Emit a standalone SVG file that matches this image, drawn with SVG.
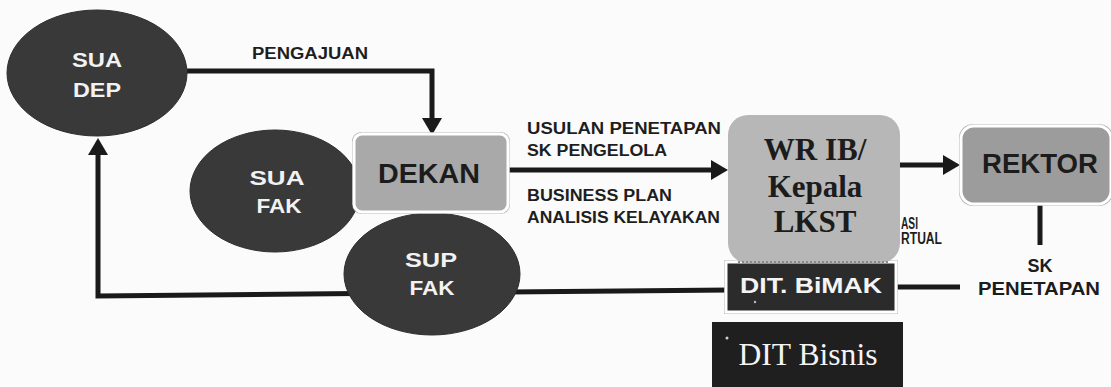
<svg xmlns="http://www.w3.org/2000/svg" width="1111" height="387" viewBox="0 0 1111 387">
<defs>
<style>
.ell{fill:#393939;stroke:#2e2e2e;stroke-width:1}
.et{font-family:"Liberation Sans",Arial,sans-serif;font-weight:bold;font-size:21px;fill:#f2f2f2;text-anchor:middle}
.lbl{font-family:"Liberation Sans",Arial,sans-serif;font-weight:bold;font-size:16px;fill:#1e1e1e}
.bt{font-family:"Liberation Sans",Arial,sans-serif;font-weight:bold;fill:#1c1c1c;text-anchor:middle}
.st{font-family:"Liberation Serif","Times New Roman",serif;font-weight:bold;font-size:31px;fill:#1c1c1c;text-anchor:middle}
.ln{fill:none;stroke:#1a1a1a;stroke-width:5}
.gbox{stroke:#ffffff;stroke-width:3}
</style>
<marker id="ah" markerUnits="userSpaceOnUse" markerWidth="20" markerHeight="24" viewBox="0 -12 20 24" refX="0" refY="0" orient="auto">
<path d="M0,-10 L17,0 L0,10 Z" fill="#1a1a1a"/>
</marker>
</defs>
<rect width="1111" height="387" fill="#fbfbfb"/>

<g id="connectors">
<path class="ln" d="M187,71 H432 V118" marker-end="url(#ah)"/>
<path class="ln" d="M505,170 H711" marker-end="url(#ah)"/>
<path class="ln" d="M900,165 H943" marker-end="url(#ah)"/>
<path class="ln" d="M730,290 L98,296 V155" marker-end="url(#ah)"/>
<path class="ln" d="M895,287 H960"/>
<path class="ln" stroke-width="6" d="M1040,205 V245"/>
</g>

<g id="label-pengajuan"><text class="lbl" x="252" y="59" textLength="116" lengthAdjust="spacingAndGlyphs">PENGAJUAN</text></g>
<g id="label-usulan">
<text class="lbl" x="527" y="134" textLength="194" lengthAdjust="spacingAndGlyphs">USULAN PENETAPAN</text>
<text class="lbl" x="527" y="156" textLength="140" lengthAdjust="spacingAndGlyphs">SK PENGELOLA</text>
</g>
<g id="label-business">
<text class="lbl" x="527" y="201" textLength="145" lengthAdjust="spacingAndGlyphs">BUSINESS PLAN</text>
<text class="lbl" x="527" y="223" textLength="193" lengthAdjust="spacingAndGlyphs">ANALISIS KELAYAKAN</text>
</g>
<g id="label-virtual">
<text class="lbl" font-size="10" x="901" y="229" textLength="17" lengthAdjust="spacingAndGlyphs">ASI</text>
<text class="lbl" font-size="10" x="901" y="244" textLength="41" lengthAdjust="spacingAndGlyphs">RTUAL</text>
</g>
<g id="label-sk">
<text class="bt" font-size="18" x="1040" y="272">SK</text>
<text class="bt" font-size="18" x="1039" y="295" textLength="122" lengthAdjust="spacingAndGlyphs">PENETAPAN</text>
</g>

<g id="sua-dep">
<ellipse class="ell" cx="97" cy="73" rx="90" ry="63"/>
<text class="et" x="97" y="67" textLength="50" lengthAdjust="spacingAndGlyphs">SUA</text>
<text class="et" x="97" y="97" textLength="48" lengthAdjust="spacingAndGlyphs">DEP</text>
</g>

<g id="sua-fak">
<ellipse class="ell" cx="275" cy="191" rx="85" ry="61"/>
<text class="et" x="277" y="185" textLength="55" lengthAdjust="spacingAndGlyphs">SUA</text>
<text class="et" x="279" y="213" textLength="45" lengthAdjust="spacingAndGlyphs">FAK</text>
</g>

<g id="sup-fak">
<ellipse class="ell" cx="432" cy="274" rx="88" ry="61"/>
<text class="et" x="431" y="267" textLength="52" lengthAdjust="spacingAndGlyphs">SUP</text>
<text class="et" x="432" y="295" textLength="45" lengthAdjust="spacingAndGlyphs">FAK</text>
</g>

<g id="dekan">
<rect x="352" y="132" width="158" height="82" rx="9" fill="#8e8e8e" opacity="0.6"/>
<rect class="gbox" x="354" y="134" width="154" height="78" rx="8" fill="#a9a9a9"/>
<text class="bt" font-size="28" x="429" y="183" textLength="102" lengthAdjust="spacingAndGlyphs">DEKAN</text>
</g>

<g id="dit-bimak">
<rect x="724" y="260" width="174" height="54" fill="#9a9a9a" opacity="0.7"/>
<rect class="gbox" x="726" y="262" width="170" height="50" fill="#2b2b2b"/>
<circle cx="755" cy="302" r="1.2" fill="#bdbdbd"/>
<text class="bt" font-size="22" style="fill:#f4f4f4" x="811" y="293" textLength="142" lengthAdjust="spacingAndGlyphs">DIT. BiMAK</text>
</g>

<g id="wr-ib">
<rect x="728" y="115" width="172" height="148" rx="20" fill="#b7b7b7"/>
<path d="M738,262 H890" stroke="#8a8a8a" stroke-width="2" stroke-dasharray="2 2"/>
<text class="st" x="815" y="160">WR IB/</text>
<text class="st" x="815" y="197">Kepala</text>
<text class="st" x="815" y="232">LKST</text>
</g>

<g id="rektor">
<rect x="959" y="124" width="154" height="82" rx="14" fill="#8e8e8e" opacity="0.6"/>
<rect class="gbox" x="961" y="126" width="150" height="78" rx="13" fill="#9c9c9c"/>
<text class="bt" font-size="27" x="1040" y="173" textLength="116" lengthAdjust="spacingAndGlyphs">REKTOR</text>
</g>

<g id="dit-bisnis">
<rect x="712" y="322" width="191" height="70" fill="#1f1f1f"/>
<circle cx="727" cy="338" r="1.5" fill="#d0d0d0"/>
<text x="808" y="365" font-family="'Liberation Serif','Times New Roman',serif" font-size="32" fill="#f4f4f4" text-anchor="middle" textLength="139" lengthAdjust="spacingAndGlyphs">DIT Bisnis</text>
</g>
</svg>
